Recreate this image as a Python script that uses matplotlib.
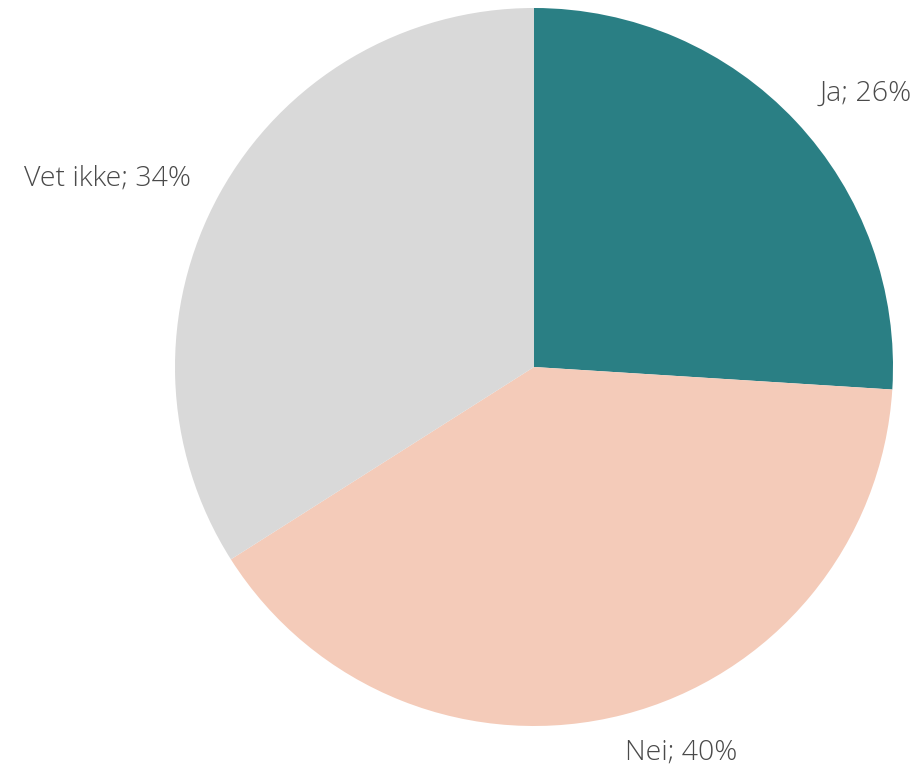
import matplotlib
matplotlib.use("Agg")
import matplotlib.pyplot as plt

categories = ["Ja", "Nei", "Vet ikke"]
shares = [26, 40, 34]
colors = ["#2A7F84", "#F4CBB9", "#D9D9D9"]

# label anchor points in axes data units (pie radius = 1)
label_pos = [(0.925, 0.760), (0.409, -1.075), (-1.189, 0.526)]

fig = plt.figure(figsize=(9.2, 7.72), dpi=100)
ax = fig.add_axes([175 / 920, 46 / 772, 718 / 920, 718 / 772])
ax.pie(shares, colors=colors, startangle=90, counterclock=False, radius=1,
       wedgeprops=dict(linewidth=0))
ax.set_xlim(-1, 1)
ax.set_ylim(-1, 1)
ax.set_aspect("equal")
ax.axis("off")

for cat, val, (x, y) in zip(categories, shares, label_pos):
    ax.text(x, y, f"{cat}; {val}%", ha="center", va="center",
            fontsize=20.5, color="#4a4a4a", family="Open Sans", fontweight="light",
            clip_on=False)

fig.savefig("out.png", dpi=100)
